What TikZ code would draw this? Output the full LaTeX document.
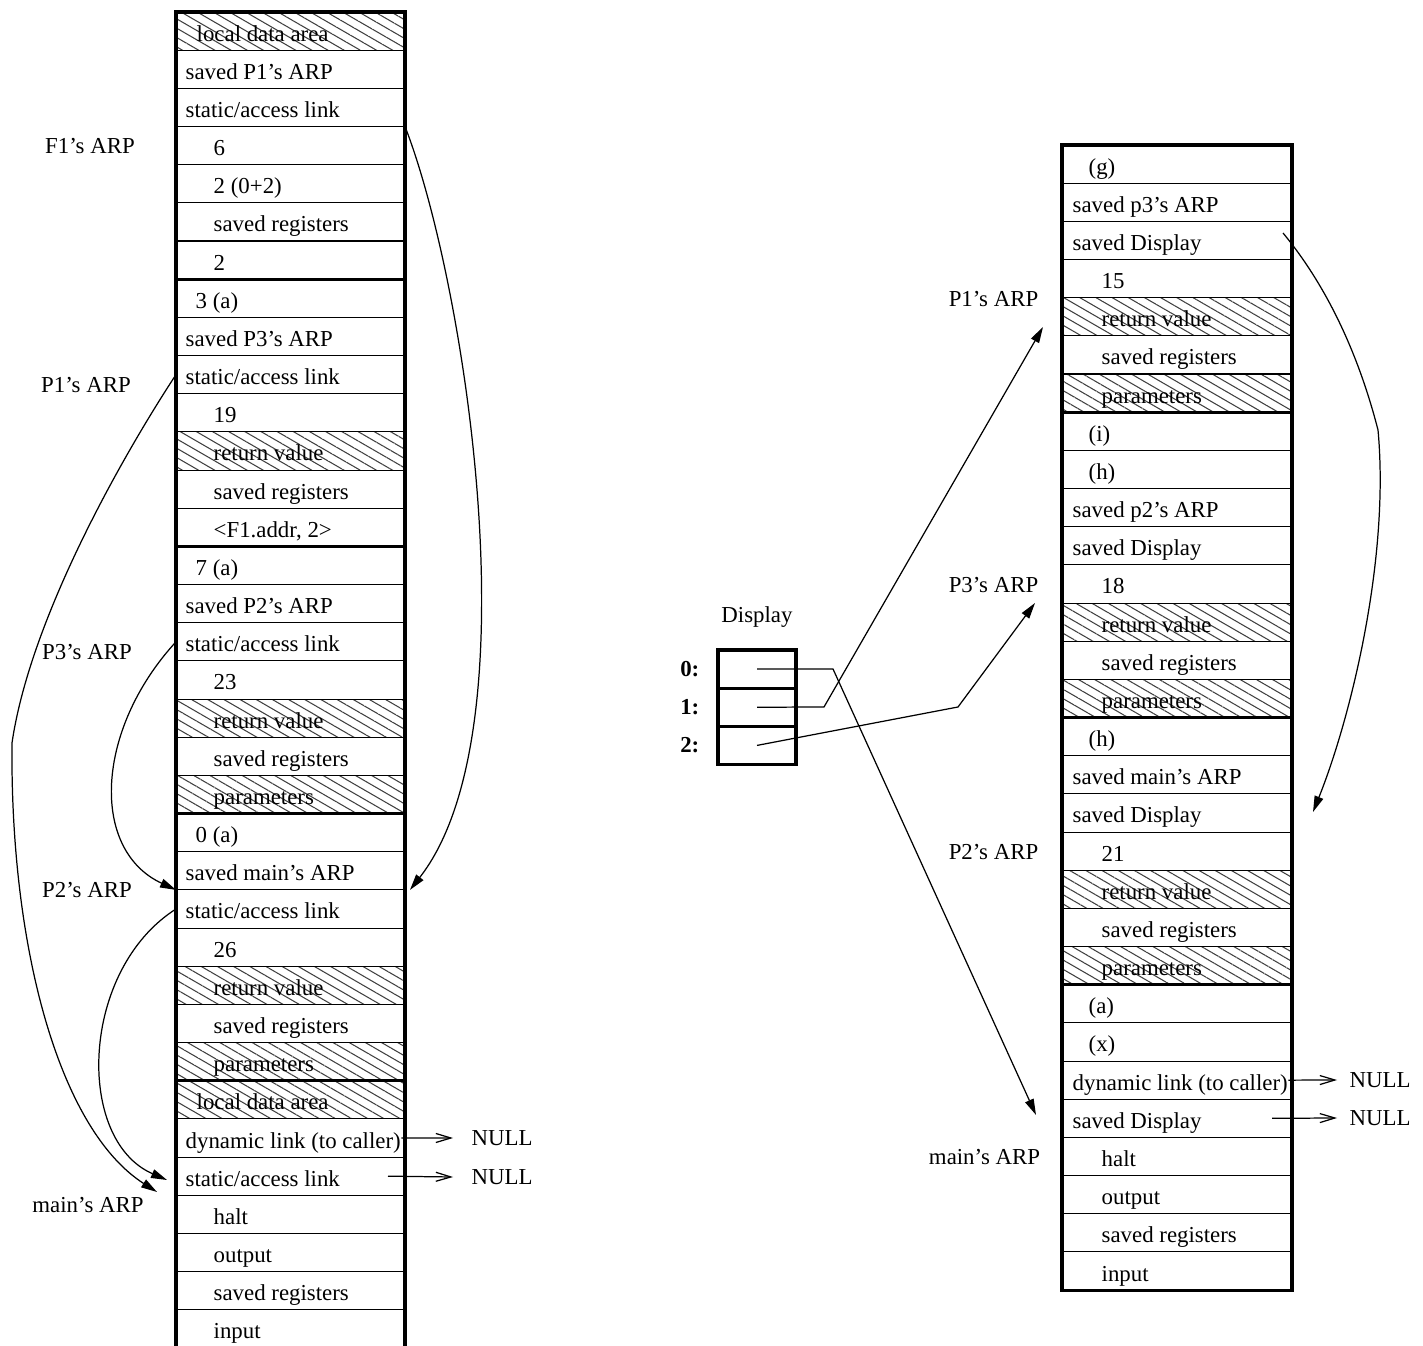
\documentclass[tikz,border=0pt]{standalone}
\usepackage{fontspec}
\setmainfont{Liberation Serif}
\usetikzlibrary{arrows.meta,positioning,patterns.meta}
\tikzset{
  cell/.style={draw,line width=0.3pt,minimum width=2.29cm,minimum height=0.3817cm,inner sep=0pt,outer sep=0pt,anchor=north west},
  rcell/.style={cell,minimum width=2.30cm},
  plain/.style={},
  hatched/.style={pattern={Lines[angle=-30,distance=2.3pt,line width=0.3pt]},pattern color=black!75},
  celltext/.style={font=\fontsize{6.5}{7.8}\selectfont,inner sep=0pt,anchor=west,text height=0.23cm,text depth=0.03cm},
  lbl/.style={font=\fontsize{6.5}{7.8}\selectfont,inner sep=0pt},
  idx/.style={font=\bfseries\fontsize{6.5}{7.8}\selectfont,inner sep=0pt},
  thickline/.style={line width=0.9pt},
  dcell/.style={draw,line width=0.9pt,minimum width=0.78cm,minimum height=0.3817cm,inner sep=0pt,outer sep=0pt},
  link/.style={line width=0.35pt,-{Triangle[length=1.6mm,width=0.9mm]}},
  nullarr/.style={line width=0.35pt,-{Straight Barb[length=1.5mm,width=0.9mm]}}
}
\begin{document}
\begin{tikzpicture}[x=1cm,y=1cm]
\useasboundingbox (0,0) rectangle (14.23,13.45);
\clip (0,0) rectangle (14.23,13.45);
% left stack: static links
\foreach \txt/\ind/\hat [count=\i from 0] in {
{local data area}/0.20/hatched, {saved P1's ARP}/0.09/plain, {static/access link}/0.09/plain,
{6}/0.37/plain, {2 (0+2)}/0.37/plain, {saved registers}/0.37/plain, {2}/0.37/plain,
{3 (a)}/0.19/plain, {saved P3's ARP}/0.09/plain, {static/access link}/0.09/plain,
{19}/0.37/plain, {return value}/0.37/hatched, {saved registers}/0.37/plain, {<F1.addr, 2>}/0.37/plain,
{7 (a)}/0.19/plain, {saved P2's ARP}/0.09/plain, {static/access link}/0.09/plain,
{23}/0.37/plain, {return value}/0.37/hatched, {saved registers}/0.37/plain, {parameters}/0.37/hatched,
{0 (a)}/0.19/plain, {saved main's ARP}/0.09/plain, {static/access link}/0.09/plain,
{26}/0.37/plain, {return value}/0.37/hatched, {saved registers}/0.37/plain, {parameters}/0.37/hatched,
{local data area}/0.20/hatched, {dynamic link (to caller)}/0.09/plain, {static/access link}/0.09/plain,
{halt}/0.37/plain, {output}/0.37/plain, {saved registers}/0.37/plain, {input}/0.37/plain}
{
\node[cell,\hat] (L\i) at (1.76,{13.33-\i*0.3817}) {};
\node[celltext] (LT\i) at ([xshift=\ind cm]L\i.west) {\txt};
}
\draw[thickline] (L0.north west) rectangle (L34.south east);
\foreach \k in {6,13,20,27}{\draw[thickline] (L\k.south west) -- (L\k.south east);}
\node[lbl] (arpF1) at (0.90,11.99) {F1's ARP};
\node[lbl] (arpP1) at (0.86,9.60) {P1's ARP};
\node[lbl] (arpP3) at (0.87,6.93) {P3's ARP};
\node[lbl] (arpP2) at (0.87,4.55) {P2's ARP};
\node[lbl] (arpmain) at (0.88,1.40) {main's ARP};
\node[lbl,anchor=west] (nullA) at (4.71,2.07) {NULL};
\node[lbl,anchor=west] (nullB) at (4.71,1.68) {NULL};
\draw[nullarr] (LT29.east) -- ([xshift=-0.18cm]nullA.west);
\draw[nullarr] ([xshift=-0.17cm]L30.east) -- ([xshift=-0.18cm]nullB.west);
\coordinate (kinkP1) at (0.12,6.02);
\coordinate (endP1) at (1.57,1.53);
\coordinate (endP2) at (1.67,1.65);
\draw[link] (L9.west) .. controls (1.20,8.85) and (0.30,7.25) .. (kinkP1) .. controls (0.10,3.95) and (0.60,2.15) .. (endP1);
\draw[link] (L16.west) .. controls (0.95,6.15) and (0.90,4.95) .. (L22.south west);
\draw[link] (L23.west) .. controls (0.80,3.75) and (0.75,2.05) .. (endP2);
\draw[link] (L2.south east) .. controls (4.65,10.65) and (5.35,6.15) .. ([xshift=0.05cm]L22.south east);
% display
\node[dcell,anchor=north west] (D0) at (7.18,6.95) {};
\node[dcell,below=0pt of D0] (D1) {};
\node[dcell,below=0pt of D1] (D2) {};
\node[lbl,above=0.22cm of D0] (disp) {Display};
\node[idx,left=0.18cm of D0] (i0) {0:};
\node[idx,left=0.18cm of D1] (i1) {1:};
\node[idx,left=0.18cm of D2] (i2) {2:};
% right stack: display
\foreach \txt/\ind/\hat [count=\i from 0] in {
{(g)}/0.26/plain, {saved p3's ARP}/0.10/plain, {saved Display}/0.10/plain,
{15}/0.39/plain, {return value}/0.39/hatched, {saved registers}/0.39/plain, {parameters}/0.39/hatched,
{(i)}/0.26/plain, {(h)}/0.26/plain, {saved p2's ARP}/0.10/plain, {saved Display}/0.10/plain,
{18}/0.39/plain, {return value}/0.39/hatched, {saved registers}/0.39/plain, {parameters}/0.39/hatched,
{(h)}/0.26/plain, {saved main's ARP}/0.10/plain, {saved Display}/0.10/plain,
{21}/0.39/plain, {return value}/0.39/hatched, {saved registers}/0.39/plain, {parameters}/0.39/hatched,
{(a)}/0.26/plain, {(x)}/0.26/plain, {dynamic link (to caller)}/0.10/plain, {saved Display}/0.10/plain,
{halt}/0.39/plain, {output}/0.39/plain, {saved registers}/0.39/plain, {input}/0.39/plain}
{
\node[rcell,\hat] (R\i) at (10.62,{12.00-\i*0.3817}) {};
\node[celltext] (RT\i) at ([xshift=\ind cm]R\i.west) {\txt};
}
\draw[thickline] (R0.north west) rectangle (R29.south east);
\foreach \k in {6,14,21}{\draw[thickline] (R\k.south west) -- (R\k.south east);}
\node[lbl] (rarpP1) at (9.935,10.46) {P1's ARP};
\node[lbl] (rarpP3) at (9.935,7.60) {P3's ARP};
\node[lbl] (rarpP2) at (9.935,4.93) {P2's ARP};
\node[lbl] (rarpmain) at (9.845,1.88) {main's ARP};
\node[lbl,anchor=west] (nullC) at (13.49,2.65) {NULL};
\node[lbl,anchor=west] (nullD) at (13.49,2.27) {NULL};
\draw[nullarr] (RT24.east) -- ([xshift=-0.12cm]nullC.west);
\draw[nullarr] ([xshift=-0.20cm]R25.east) -- ([xshift=-0.12cm]nullD.west);
\coordinate (k0) at (8.33,6.76);
\coordinate (k1) at (8.24,6.38);
\coordinate (k2) at (9.58,6.38);
\coordinate (e0) at (10.36,2.30);
\coordinate (e1) at (10.43,10.18);
\coordinate (e2) at (10.35,7.42);
\draw[link] (D0.center) -- (k0) -- (e0);
\draw[link] (D1.center) -- (k1) -- (e1);
\draw[link] (D2.center) -- (k2) -- (e2);
\coordinate (sd) at (12.83,11.12);
\coordinate (kinkR) at (13.78,9.15);
\coordinate (endR) at (13.13,5.33);
\draw[link] (sd) .. controls (13.30,10.55) and (13.60,9.85) .. (kinkR) .. controls (13.90,7.85) and (13.50,6.25) .. (endR);
\end{tikzpicture}
\end{document}
